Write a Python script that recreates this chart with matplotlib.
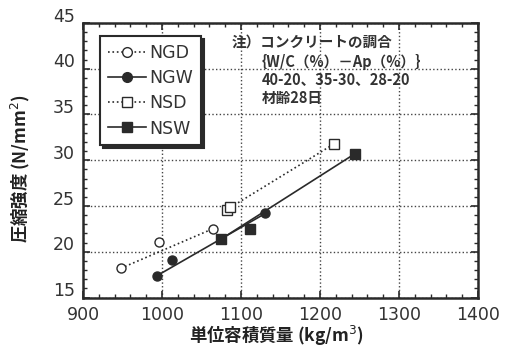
import matplotlib
matplotlib.use('Agg')
import matplotlib.pyplot as plt
import matplotlib.transforms as mtrans
from matplotlib.ticker import MultipleLocator

plt.rcParams['font.family'] = ['DejaVu Sans', 'Noto Sans CJK JP']
plt.rcParams['mathtext.fontset'] = 'dejavusans'

# 読み取った値
ngd_x = [948, 996, 1064]
ngd_y = [18.2, 21.1, 22.5]
ngw_x = [994, 1013, 1131]
ngw_y = [17.4, 19.1, 24.2]
nsd_x = [1082, 1086, 1218]
nsd_y = [24.6, 24.9, 31.8]
nsw_x = [1075, 1112, 1244]
nsw_y = [21.4, 22.5, 30.7]

note = ['注）コンクリートの調合',
        '{W/C（%）－Ap（%）}',
        '40-20、35-30、28-20',
        '材齢28日']

dark = '#2a2a2a'
fig = plt.figure(figsize=(5.17, 3.48), dpi=100)
ax = fig.add_axes([0.1605, 0.145, 0.764, 0.789])

def series(x, y, marker, filled, ls, label):
    fc = dark if filled else 'white'
    # 直線（始点と終点を結ぶ）
    ax.plot([x[0], x[-1]], [y[0], y[-1]], ls=ls, color=dark, lw=1.2, zorder=2)
    ax.plot(x, y, ls='none', marker=marker, ms=6.5, mfc=fc, mec=dark, mew=1.0, zorder=3)
    # 凡例用
    ax.plot([], [], ls=ls, color=dark, lw=1.2, marker=marker, ms=7, mfc=fc, mec=dark, label=label)

series(ngd_x, ngd_y, 'o', False, ':', 'NGD')
series(ngw_x, ngw_y, 'o', True, '-', 'NGW')
series(nsd_x, nsd_y, 's', False, ':', 'NSD')
series(nsw_x, nsw_y, 's', True, '-', 'NSW')

ax.set_xlim(900, 1400)
ax.set_ylim(15, 45)
ax.xaxis.set_major_locator(MultipleLocator(100))
ax.xaxis.set_minor_locator(MultipleLocator(20))
ax.yaxis.set_major_locator(MultipleLocator(5))
ax.yaxis.set_minor_locator(MultipleLocator(1))
ax.tick_params(which='both', direction='in', top=True, right=True, color=dark)
ax.tick_params(which='major', length=5, width=1.2, labelsize=12.5, labelcolor='#333333')
ax.tick_params(axis='x', which='major', pad=6)
ax.tick_params(axis='y', which='major', pad=6)
ax.tick_params(which='minor', length=3, width=1)
ax.grid(True, which='major', ls=':', color='#444444', lw=1)
for s in ax.spines.values():
    s.set_linewidth(1.8)
    s.set_color(dark)

# y目盛ラベルは少し上にずれている
up = mtrans.ScaledTranslation(0, 6 / 72, fig.dpi_scale_trans)
for lab in ax.get_yticklabels():
    lab.set_transform(lab.get_transform() + up)

ax.set_xlabel('単位容積質量 (kg/m$^3$)', fontsize=12.5, fontweight='bold', color='#222222',
              family=['Noto Sans CJK JP'])
ax.xaxis.set_label_coords(0.49, -0.095)
ax.set_ylabel('圧縮強度 (N/mm$^2$)', fontsize=12.5, fontweight='bold', color='#222222',
              family=['Noto Sans CJK JP'])
ax.yaxis.set_label_coords(-0.13, 0.47)

leg = ax.legend(loc='upper left', bbox_to_anchor=(0.043, 0.953), borderaxespad=0,
                fontsize=12.5, handlelength=2.2, handletextpad=0.2, labelspacing=0.42,
                borderpad=0.45, fancybox=False, framealpha=1, edgecolor=dark,
                shadow={'color': dark, 'alpha': 1})
leg.get_frame().set_linewidth(1.5)
for t in leg.get_texts():
    t.set_color('#333333')

fs = 10.5
fig.text(232 / 517, 1 - 42 / 348, note[0], fontsize=fs, fontweight='bold',
         color='#333333', va='center', family=['Noto Sans CJK JP'])
for i, line in enumerate(note[1:]):
    fig.text(262 / 517, 1 - (62 + 18 * i) / 348, line, fontsize=fs, fontweight='bold',
             color='#333333', va='center', family=['Noto Sans CJK JP'])

fig.savefig('out.png', dpi=100)
